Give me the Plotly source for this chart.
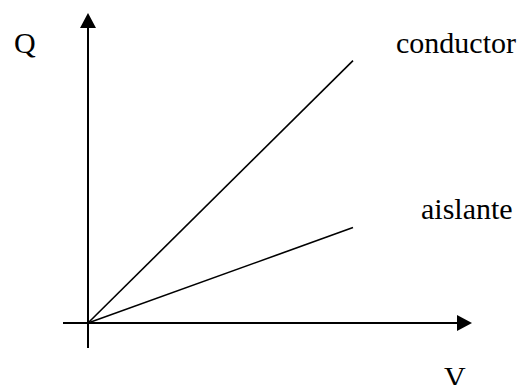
import plotly.graph_objects as go

# Data (arbitrary units)
V = [0, 10]
Q_conductor = [0, 9.9]
Q_aislante = [0, 3.6]
labels = {"x": "V", "y": "Q", "conductor": "conductor", "aislante": "aislante"}

W, H = 525, 385
ox, oy = 88, 323          # origin pixel
scale = 26.5              # pixels per unit

def px(x):  # pixel x -> paper
    return x / W

def py(y):  # pixel y -> paper
    return 1 - y / H

fig = go.Figure()
fig.add_trace(go.Scatter(x=V, y=Q_conductor, mode="lines",
                         line=dict(color="black", width=1.6),
                         hoverinfo="skip", showlegend=False))
fig.add_trace(go.Scatter(x=V, y=Q_aislante, mode="lines",
                         line=dict(color="black", width=1.6),
                         hoverinfo="skip", showlegend=False))

shapes = []
# x axis line + arrow head
shapes.append(dict(type="line", xref="paper", yref="paper",
                   x0=px(63), x1=px(458), y0=py(oy), y1=py(oy),
                   line=dict(color="black", width=2)))
shapes.append(dict(type="path", xref="paper", yref="paper",
                   path=f"M {px(472)} {py(oy)} L {px(457)} {py(oy-8)} L {px(457)} {py(oy+8)} Z",
                   fillcolor="black", line=dict(color="black", width=0)))
# y axis line + arrow head
shapes.append(dict(type="line", xref="paper", yref="paper",
                   x0=px(ox), x1=px(ox), y0=py(348), y1=py(27),
                   line=dict(color="black", width=2)))
shapes.append(dict(type="path", xref="paper", yref="paper",
                   path=f"M {px(ox)} {py(13)} L {px(ox-8)} {py(28)} L {px(ox+8)} {py(28)} Z",
                   fillcolor="black", line=dict(color="black", width=0)))

font = dict(family="'Times New Roman', 'Liberation Serif', 'DejaVu Serif', serif", size=30, color="black")
annotations = [
    dict(text=labels["y"], x=px(12), y=py(42), xanchor="left", yanchor="middle"),
    dict(text=labels["conductor"], x=px(394), y=py(42), xanchor="left", yanchor="middle"),
    dict(text=labels["aislante"], x=px(419), y=py(209), xanchor="left", yanchor="middle"),
    dict(text=labels["x"], x=px(442), y=py(376), xanchor="left", yanchor="middle"),
]
for a in annotations:
    a.update(xref="paper", yref="paper", showarrow=False, font=font)

fig.update_layout(
    width=W, height=H, autosize=False,
    margin=dict(l=0, r=0, t=0, b=0),
    paper_bgcolor="white", plot_bgcolor="white",
    font=font,
    xaxis=dict(range=[-ox / scale, (W - ox) / scale], visible=False, fixedrange=True),
    yaxis=dict(range=[-(H - oy) / scale, oy / scale], visible=False, fixedrange=True),
    shapes=shapes, annotations=annotations,
)

fig.write_html("out.html", config={"displayModeBar": False},
               post_script="document.body.style.margin='0';document.body.style.overflow='hidden';")
